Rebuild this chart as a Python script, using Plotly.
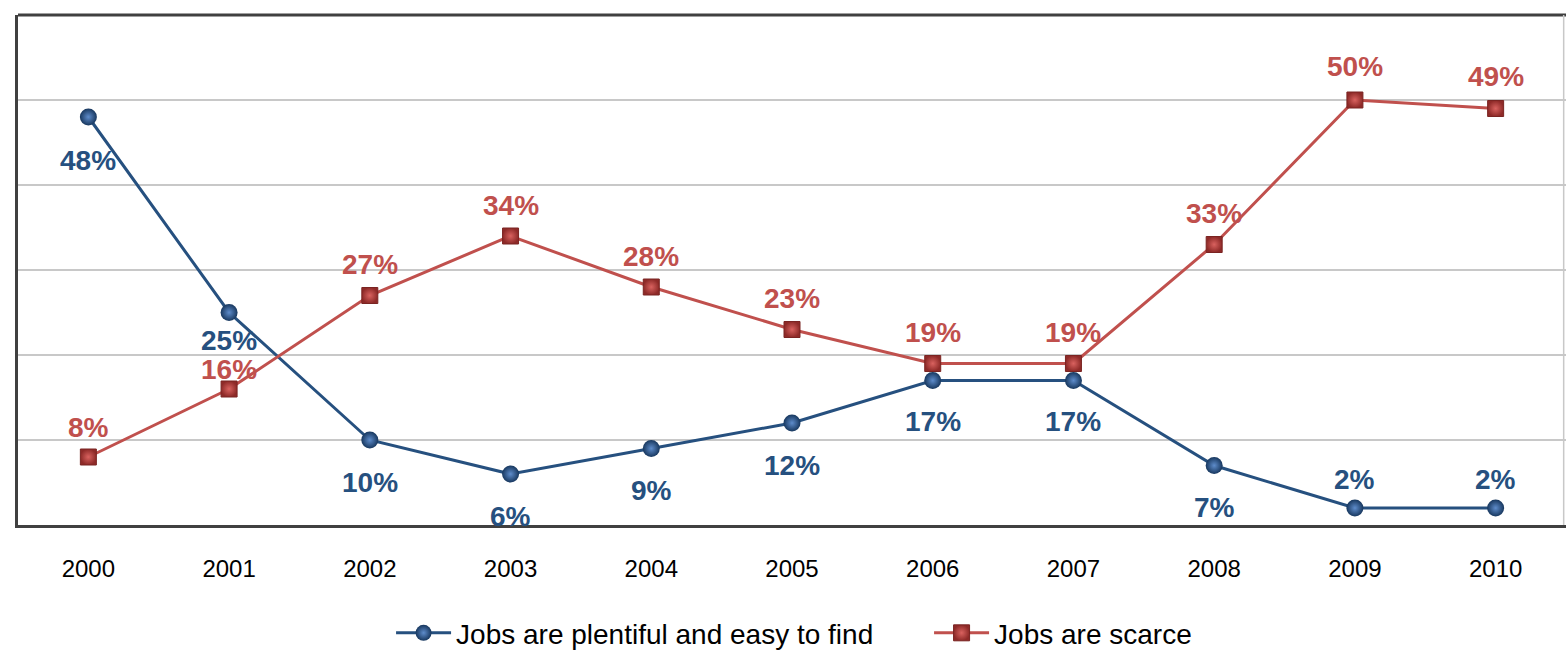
import plotly.graph_objects as go

# Survey results by year (percent of respondents)
years = [2000, 2001, 2002, 2003, 2004, 2005, 2006, 2007, 2008, 2009, 2010]
plentiful = [48, 25, 10, 6, 9, 12, 17, 17, 7, 2, 2]
scarce = [8, 16, 27, 34, 28, 23, 19, 19, 33, 50, 49]

series_names = ["Jobs are plentiful and easy to find", "Jobs are scarce"]

# Vertical offsets (px) of value labels relative to each point
plentiful_label_shift = [-43, -28, -42, -42, -42, -42, -41, -41, -42, 29, 29]
scarce_label_shift = [30, 20, 31, 31, 31, 31, 31, 31, 31, 34, 32]

BLUE = "#26507F"
RED = "#C0504D"
FRAME = "#404040"
GRID = "#C8C8C8"
LABEL_FONT = "Liberation Sans, Arial, sans-serif"

fig = go.Figure()

fig.add_trace(go.Scatter(
    x=years, y=plentiful, name=series_names[0], mode="lines+markers",
    line=dict(color=BLUE, width=3),
    marker=dict(symbol="circle", size=17, color="#17375E",
                gradient=dict(type="radial", color="#5E8CCB"),
                line=dict(width=0)),
))
fig.add_trace(go.Scatter(
    x=years, y=scarce, name=series_names[1], mode="lines+markers",
    line=dict(color=RED, width=3),
    marker=dict(symbol="square", size=16, color="#8E2A28",
                gradient=dict(type="radial", color="#D9625F"),
                line=dict(width=1, color="#7A2422")),
))

annotations = []
for values, shifts, color in ((plentiful, plentiful_label_shift, BLUE),
                              (scarce, scarce_label_shift, RED)):
    for yr, v, dy in zip(years, values, shifts):
        annotations.append(dict(
            x=yr, y=v, xref="x", yref="y", text=f"<b>{v}%</b>", showarrow=False, yshift=dy,
            font=dict(family=LABEL_FONT, size=28, color=color),
            xanchor="center", yanchor="middle"))

shapes = [
    # top edge of the plot frame
    dict(type="line", xref="paper", yref="paper", x0=0, x1=1, y0=1, y1=1,
         line=dict(color=FRAME, width=3)),
    # light right edge
    dict(type="line", xref="paper", yref="paper", x0=0.9985, x1=0.9985, y0=0, y1=1,
         line=dict(color=GRID, width=1.5)),
]

fig.update_layout(
    width=1566, height=656,
    margin=dict(l=18, r=0, t=15, b=131, autoexpand=False),
    paper_bgcolor="white", plot_bgcolor="white",
    font=dict(family=LABEL_FONT, color="black"),
    showlegend=True,
    legend=dict(orientation="h", x=0.241, xanchor="left", y=-0.212, yanchor="middle",
                font=dict(family=LABEL_FONT, size=28, color="black"),
                itemwidth=55, tracegroupgap=0,
                entrywidth=468, entrywidthmode="pixels"),
    annotations=annotations,
    shapes=shapes,
)

fig.update_xaxes(
    range=[1999.5, 2010.5], tickmode="array", tickvals=years,
    ticktext=[str(y) for y in years],
    showline=True, linecolor=FRAME, linewidth=3,
    showgrid=False, zeroline=False, ticks="",
    ticklabelstandoff=20,
    tickfont=dict(family=LABEL_FONT, size=24, color="black"),
)
fig.update_yaxes(
    range=[0, 60], dtick=10,
    showline=True, linecolor=FRAME, linewidth=3,
    showgrid=True, gridcolor=GRID, gridwidth=1.5,
    zeroline=False, showticklabels=False, ticks="",
)

fig.write_html("out.html")
